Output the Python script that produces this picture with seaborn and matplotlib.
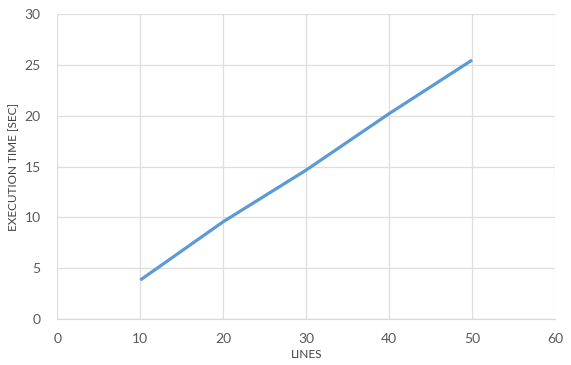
import matplotlib
matplotlib.use("Agg")
import matplotlib.pyplot as plt
import seaborn as sns
import pandas as pd

lines = [10, 20, 30, 40, 50]
exec_time = [3.83, 9.57, 14.65, 20.2, 25.47]
x_ticks = [0, 10, 20, 30, 40, 50, 60]
y_ticks = [0, 5, 10, 15, 20, 25, 30]

sns.set_theme(style="white")
plt.rcParams["font.family"] = ["Lato", "DejaVu Sans"]

df = pd.DataFrame({"LINES": lines, "EXECUTION TIME [SEC]": exec_time})

fig = plt.figure(figsize=(5.71, 3.65), dpi=100)
ax = fig.add_axes([0.1004, 0.126, 0.8716, 0.8356])

sns.lineplot(data=df, x="LINES", y="EXECUTION TIME [SEC]", ax=ax,
             color="#5b9bd5", linewidth=2.3, solid_capstyle="butt")

ax.set_xlim(0, 60)
ax.set_ylim(0, 30)
ax.set_xticks(x_ticks)
ax.set_yticks(y_ticks)
ax.grid(True, color="#dedede", linewidth=0.9)
ax.set_axisbelow(True)
for side, sp in ax.spines.items():
    sp.set_visible(side == "bottom")
ax.spines["bottom"].set_color("#d9d9d9")
ax.spines["bottom"].set_linewidth(0.9)
ax.tick_params(axis="both", length=0, labelsize=10, labelcolor="#595959", pad=10)
ax.tick_params(axis="y", pad=12)
ax.set_xlabel("LINES", fontsize=8.5, color="#404040", labelpad=3)
ax.set_ylabel("EXECUTION TIME [SEC]", fontsize=8.5, color="#404040", labelpad=4)

fig.savefig("out.png", dpi=100)
